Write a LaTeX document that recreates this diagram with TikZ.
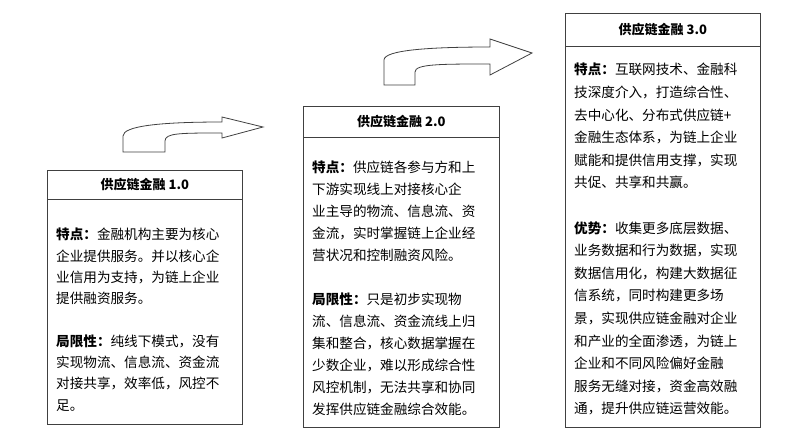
\documentclass[tikz,border=0pt]{standalone}
\usepackage{fontspec}
\setmainfont{Noto Sans CJK SC}
\begin{document}
\begin{tikzpicture}[x=1pt,y=-1pt,
    frame/.style={draw=black!75,line width=0.8pt,anchor=north west,inner sep=0pt},
    headtext/.style={font=\fontsize{13}{15}\selectfont\bfseries},
    bodytext/.style={anchor=north west,align=left,inner sep=0pt,
      font=\fontsize{13.6}{22}\selectfont},
    bendarrow/.style={draw=black!75,line width=0.8pt,fill=white,line join=miter}]
    \useasboundingbox (0,0) rectangle (810,437);
    % Rahmen
    \node[frame,minimum width=195pt,minimum height=254pt] (v1) at (47,170) {};
    \node[frame,minimum width=196pt,minimum height=321pt] (v2) at (303,106) {};
    \node[frame,minimum width=195pt,minimum height=414pt] (v3) at (565,13) {};
    \draw[black!75,line width=0.8pt] ([yshift=-29pt]v1.north west) -- ([yshift=-29pt]v1.north east);
    \draw[black!75,line width=0.8pt] ([yshift=-31pt]v2.north west) -- ([yshift=-31pt]v2.north east);
    \draw[black!75,line width=0.8pt] ([yshift=-33pt]v3.north west) -- ([yshift=-33pt]v3.north east);
    % Titel
    \node[headtext] (t1) at ([yshift=-15pt]v1.north) {供应链金融 1.0};
    \node[headtext] (t2) at ([yshift=-16pt]v2.north) {供应链金融 2.0};
    \node[headtext] (t3) at ([yshift=-17pt]v3.north) {供应链金融 3.0};
    % Inhalt
    \node[bodytext,font=\fontsize{13.6}{21.3}\selectfont] (b1) at (56,228) {\textbf{特点：}金融机构主要为核心\\企业提供服务。并以核心企\\业信用为支持，为链上企业\\提供融资服务。\\[21.3pt]
      \textbf{局限性：}纯线下模式，没有\\实现物流、信息流、资金流\\对接共享，效率低，风控不\\足。};
    \node[bodytext] (b2) at (312,161) {\textbf{特点：}供应链各参与方和上\\下游实现线上对接核心企\\业主导的物流、信息流、资\\金流，实时掌握链上企业经\\营状况和控制融资风险。\\[22pt]
      \textbf{局限性：}只是初步实现物\\流、信息流、资金流线上归\\集和整合，核心数据掌握在\\少数企业，难以形成综合性\\风控机制，无法共享和协同\\发挥供应链金融综合效能。};
    \node[bodytext,font=\fontsize{13.6}{22.6}\selectfont] (b3) at (574,63) {\textbf{特点：}互联网技术、金融科\\技深度介入，打造综合性、\\去中心化、分布式供应链+\\金融生态体系，为链上企业\\赋能和提供信用支撑，实现\\共促、共享和共赢。\\[22.6pt]
      \textbf{优势：}收集更多底层数据、\\业务数据和行为数据，实现\\数据信用化，构建大数据征\\信系统，同时构建更多场\\景，实现供应链金融对企业\\和产业的全面渗透，为链上\\企业和不同风险偏好金融\\服务无缝对接，资金高效融\\通，提升供应链运营效能。};
    % Pfeile
    \draw[bendarrow] (123,152) -- (123,136) .. controls (123,126) and (160,122) .. (222,122)
      -- (222,117) -- (263,127) -- (222,138) -- (222,133)
      .. controls (180,133) and (165,133) .. (165,141) -- (165,152) -- cycle;
    \draw[bendarrow] (384,85) -- (384,60) .. controls (384,50) and (430,47) .. (490,47)
      -- (490,39) -- (532,53) -- (490,75) -- (490,64)
      .. controls (440,64) and (415,64) .. (415,72) -- (415,85) -- cycle;
\end{tikzpicture}
\end{document}
